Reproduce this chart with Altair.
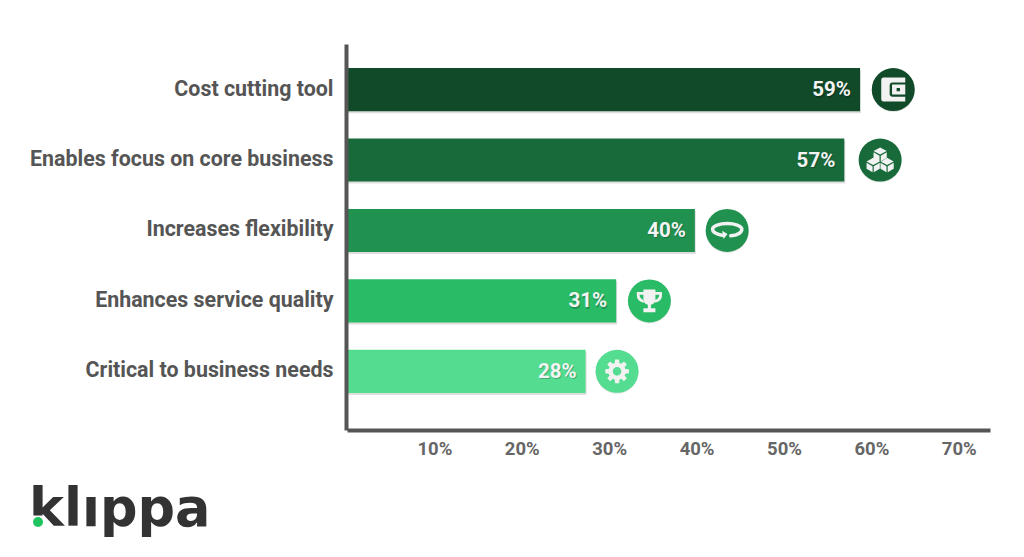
import math
import altair as alt
import pandas as pd

categories = ["Cost cutting tool", "Enables focus on core business", "Increases flexibility",
              "Enhances service quality", "Critical to business needs"]
bar_lengths = [58.7, 56.9, 39.8, 30.8, 27.3]
value_labels = ["59%", "57%", "40%", "31%", "28%"]
icon_positions = [62.5, 61.0, 43.5, 34.6, 30.9]
colors = ["#114a28", "#186a3b", "#219150", "#2abb67", "#54dd90"]
icon_names = ["wallet", "cubes", "loop", "trophy", "gear"]
x_ticks = [10, 20, 30, 40, 50, 60, 70]


def gear_path():
    pts = []
    teeth = 8
    for i in range(teeth):
        a = 2 * math.pi * i / teeth
        for da, r in [(-0.27, 0.72), (-0.17, 1.0), (0.17, 1.0), (0.27, 0.72)]:
            pts.append((r * math.cos(a + da), r * math.sin(a + da)))
    s = "M" + " L".join(f"{x:.3f},{y:.3f}" for x, y in pts) + " Z "
    return s + "M0.36,0 A0.36,0.36 0 1 0 -0.36,0 A0.36,0.36 0 1 0 0.36,0 Z"


def cube_path(cx, cy, r=0.6):
    w, h, g = r * 0.92, r * 0.5, 0.05
    top = f"M{cx},{cy-r} L{cx+w},{cy-r+h} L{cx},{cy-r+2*h} L{cx-w},{cy-r+h} Z"
    left = f"M{cx-w},{cy-r+h+g*2} L{cx-g},{cy-r+2*h+g*2} L{cx-g},{cy+r} L{cx-w},{cy+r-h} Z"
    right = f"M{cx+w},{cy-r+h+g*2} L{cx+g},{cy-r+2*h+g*2} L{cx+g},{cy+r} L{cx+w},{cy+r-h} Z"
    return " ".join([top, left, right])


icon_paths = {
    "wallet": "M-0.8,-1 H1 V-0.6 H-0.05 Q-0.3,-0.6 -0.3,-0.35 V0.35 Q-0.3,0.6 -0.05,0.6 H1 V1 H-0.8 Q-1,1 -1,0.8 V-0.8 Q-1,-1 -0.8,-1 Z "
              "M-0.1,-0.42 H1 V0.42 H-0.1 Z M0.28,-0.14 V0.14 H0.56 V-0.14 Z",
    "cubes": cube_path(0, -0.45) + " " + cube_path(-0.58, 0.42) + " " + cube_path(0.58, 0.42),
    "loop": "M-0.42,0.02 L0.02,0.3 L-0.3,0.72 Z",
    "trophy": "M-0.5,-0.95 H0.5 V-0.2 Q0.5,0.25 0.13,0.32 V0.62 H0.5 V0.95 H-0.5 V0.62 H-0.13 V0.32 Q-0.5,0.25 -0.5,-0.2 Z "
              "M-0.5,-0.75 H-1.05 V-0.45 Q-1.05,0.05 -0.45,0.15 L-0.45,-0.08 Q-0.82,-0.18 -0.82,-0.52 H-0.5 Z "
              "M0.5,-0.75 H1.05 V-0.45 Q1.05,0.05 0.45,0.15 L0.45,-0.08 Q0.82,-0.18 0.82,-0.52 H0.5 Z",
    "gear": gear_path(),
}
loop_stroke = "M0.3,0.45 C0.9,0.4 1.22,0.15 1.22,-0.1 C1.22,-0.4 0.6,-0.58 0,-0.58 C-0.6,-0.58 -1.22,-0.4 -1.22,-0.1 C-1.22,0.15 -0.8,0.35 -0.3,0.42"

df = pd.DataFrame({"category": categories, "length": bar_lengths, "label": value_labels,
                   "icon_x": icon_positions, "color": colors, "icon": icon_names})

y_enc = alt.Y("category:N", sort=categories, title=None,
              scale=alt.Scale(paddingInner=0.388, paddingOuter=0.434, align=0.393),
              axis=alt.Axis(domainColor="#555555", domainWidth=4, ticks=False, labelPadding=13, offset=1,
                            labelFont="Roboto", labelFontSize=21.4, labelFontWeight=700, labelColor="#555555",
                            labelLimit=400, grid=False, zindex=1))
x_enc = alt.X("length:Q", title=None, scale=alt.Scale(domain=[0, 73.57], nice=False),
              axis=alt.Axis(values=x_ticks, labelExpr="datum.value + '%'", domainColor="#555555", domainWidth=4,
                            ticks=False, grid=False, labelPadding=9, labelFont="Roboto", labelFontSize=18.5,
                            labelFontWeight=700, labelColor="#666666", zindex=1))
color_enc = alt.Color("color:N", scale=None, legend=None)
base = alt.Chart(df)

shadow = base.mark_bar(color="#000000", opacity=0.13, xOffset=1, yOffset=2).encode(x=x_enc, y=y_enc)
bars = base.mark_bar().encode(x=x_enc, y=y_enc, color=color_enc)
text_shadow = base.mark_text(align="right", font="Roboto", fontSize=20.5, fontWeight=700, color="#000000",
                             opacity=0.22, dx=-8, dy=2).encode(x=x_enc, y=y_enc, text="label:N")
texts = base.mark_text(align="right", font="Roboto", fontSize=20.5, fontWeight=700, color="#f4f4f4",
                       dx=-9, dy=0.5).encode(x=x_enc, y=y_enc, text="label:N")
circle_shadow = base.mark_point(filled=True, shape="circle", size=1849, color="#000000", opacity=0.1, yOffset=1).encode(
    x=alt.X("icon_x:Q"), y=y_enc)
circles = base.mark_point(filled=True, shape="circle", size=1849, opacity=1).encode(
    x=alt.X("icon_x:Q"), y=y_enc, color=color_enc)
icons = base.mark_point(filled=True, size=576, opacity=1, color="#f2f2f2", strokeWidth=0).encode(
    x=alt.X("icon_x:Q"), y=y_enc,
    shape=alt.Shape("icon:N", legend=None,
                    scale=alt.Scale(domain=icon_names, range=[icon_paths[n] for n in icon_names])))
loop = base.transform_filter("datum.icon == 'loop'").mark_point(
    filled=False, size=576, opacity=1, color="#f2f2f2", strokeWidth=3.5, strokeCap="round", shape=loop_stroke).encode(
    x=alt.X("icon_x:Q"), y=y_enc)

logo_df = pd.DataFrame({"logo": ["klippa"]})
logo = alt.Chart(logo_df).mark_text(align="left", baseline="alphabetic", font="DejaVu Sans", fontSize=52.5, fontWeight=700,
                                    color="#333333").encode(
    x=alt.value(-318), y=alt.value(482), text="logo:N")
dot_gap = alt.Chart(logo_df).mark_point(filled=True, shape="square", size=120, color="#ffffff", opacity=1).encode(
    x=alt.value(-309), y=alt.value(477))
i_mask = alt.Chart(logo_df).mark_point(filled=True, shape="square", size=144, color="#ffffff", opacity=1).encode(
    x=alt.value(-256), y=alt.value(445.5))
dot = alt.Chart(logo_df).mark_point(filled=True, shape="circle", size=100, color="#1fc45f", opacity=1).encode(
    x=alt.value(-309), y=alt.value(478))

chart = alt.layer(shadow, bars, text_shadow, texts, circle_shadow, circles, icons, loop, logo, dot_gap, i_mask, dot).resolve_scale(
    color="independent", shape="independent"
).properties(
    width=643, height=386, autosize=alt.AutoSizeParams(type="none"),
    padding={"left": 339, "top": 36, "right": 26, "bottom": 119},
    background="#ffffff",
).configure_view(stroke=None)

chart.save("out.html", embed_options={"renderer": "svg", "actions": False})
